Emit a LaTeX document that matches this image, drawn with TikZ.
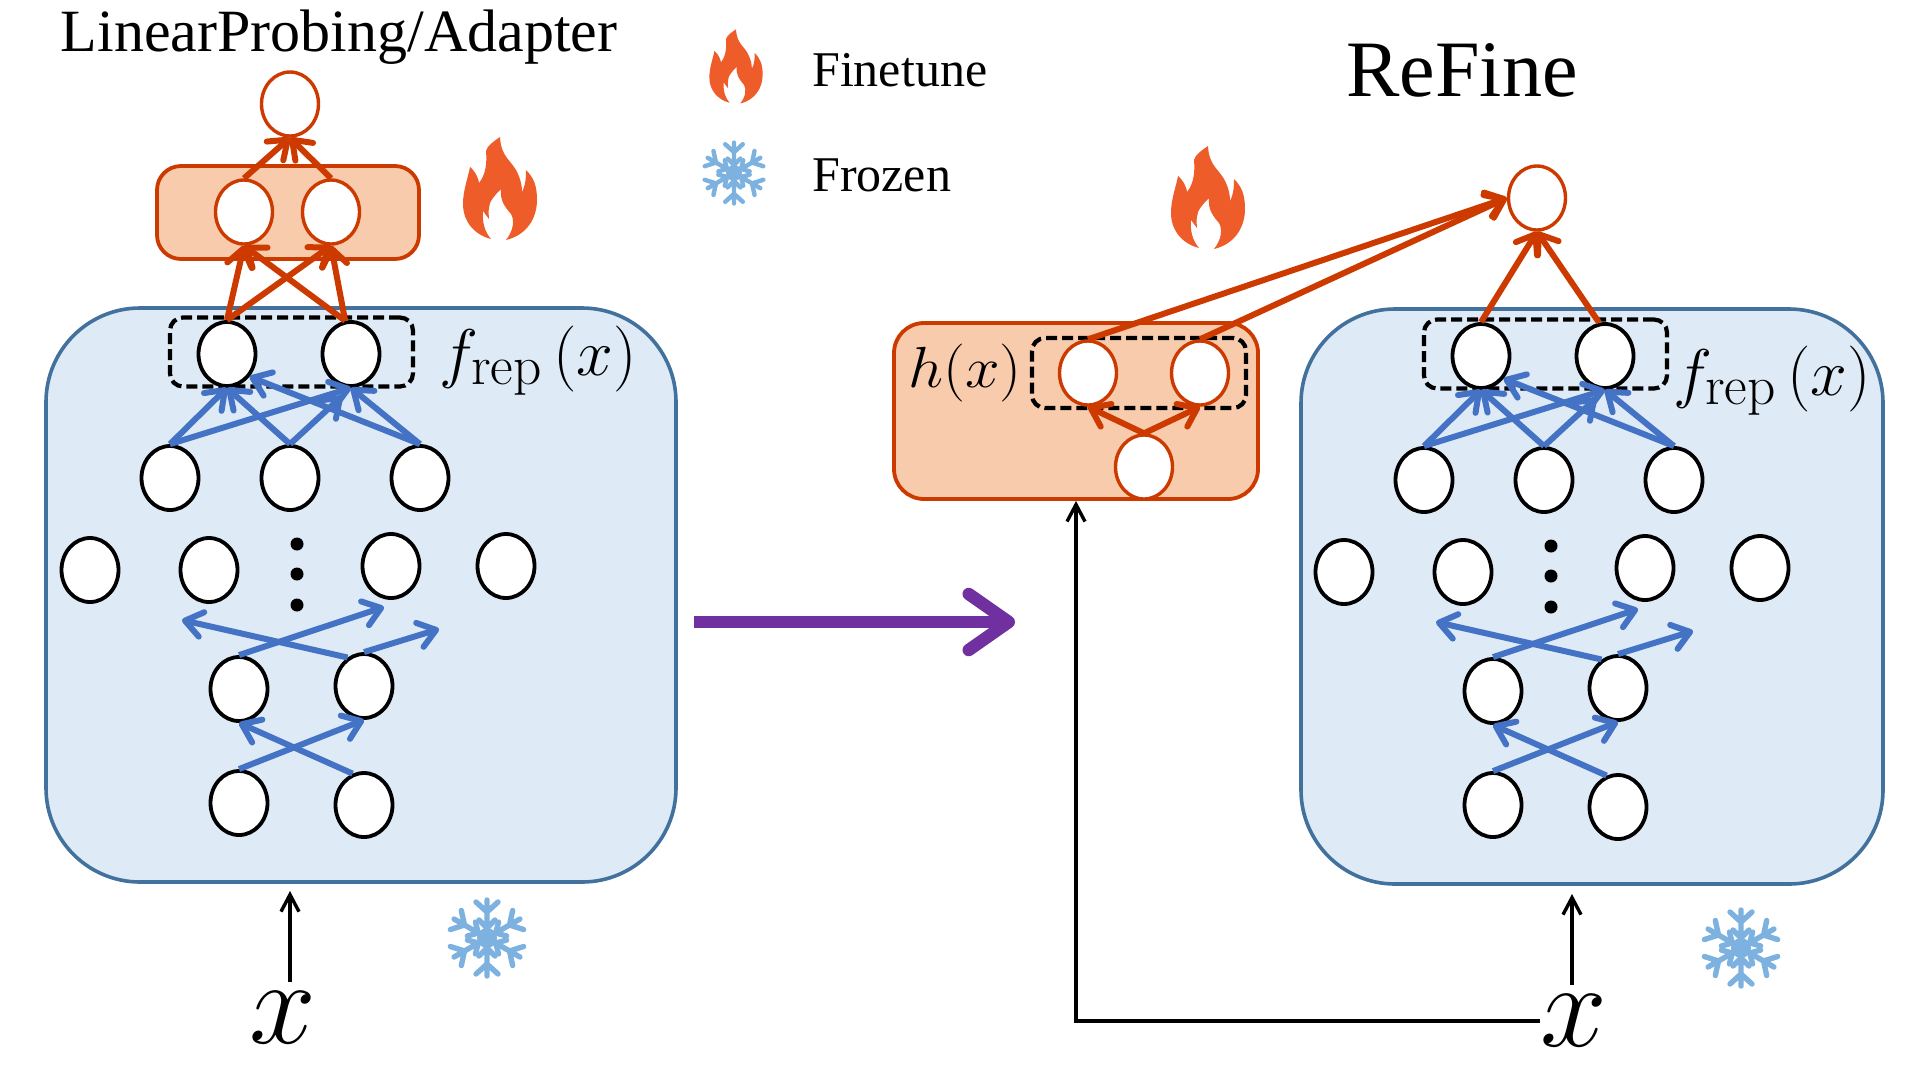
\RequirePackage{fix-cm}
\documentclass[tikz,border=0pt]{standalone}
\usepackage[no-math]{fontspec}
\setmainfont{Liberation Serif}
\usepackage{amsmath}
\usepackage{tikz}
\usetikzlibrary{shapes.geometric,arrows.meta,positioning}

\definecolor{redline}{HTML}{CC3A00}
\definecolor{redfill}{HTML}{F8CBAD}
\definecolor{blueline}{HTML}{41719C}
\definecolor{bluefill}{HTML}{DEEAF6}
\definecolor{bluearr}{HTML}{4472C4}
\definecolor{purplearr}{HTML}{7030A0}
\definecolor{flamecol}{HTML}{EE5C2A}
\definecolor{snowcol}{HTML}{7DB1DF}

\newcommand{\frep}{$f_{\scalebox{1.2}{$\scriptstyle\mathrm{rep}$}}\,(x)$}

\tikzset{
	nn/.style={ellipse,draw=black,fill=white,line width=3.8pt,minimum width=57pt,minimum height=64pt,inner sep=0pt},
	rednn/.style={nn,draw=redline,line width=3.4pt},
	bluebox/.style={rectangle,draw=blueline,fill=bluefill,line width=3.6pt,rounded corners=94pt,inner sep=0pt},
	redbox/.style={rectangle,draw=redline,fill=redfill,line width=3.8pt,rounded corners=24pt,inner sep=0pt},
	dashbox/.style={rectangle,draw=black,line width=4.2pt,dash pattern=on 11pt off 5pt,rounded corners=13pt,inner sep=0pt},
	bluearrow/.style={draw=bluearr,line width=6pt,-{Straight Barb[length=17pt,width=25pt,round]}},
	redarrow/.style={draw=redline,line width=6pt,-{Straight Barb[length=17pt,width=25pt,round]}},
	inputarrow/.style={draw=black,line width=3.4pt,-{Straight Barb[length=17pt,width=18pt]}},
	bigarrow/.style={draw=purplearr,line width=12.5pt,-{Straight Barb[length=40pt,width=56pt,round]}},
	snowline/.style={draw=snowcol,line width=5.4pt,line cap=round},
	pics/firepic/.style={code={
		\fill[flamecol] (0,-51) .. controls (1,-30) and (12,-28) .. (18,-14)
			.. controls (21,-7) and (22,-2) .. (22,4)
			.. controls (26,-4) and (26,-12) .. (26,-18)
			.. controls (34,-10) and (37,-2) .. (37,12)
			.. controls (37,30) and (27,47) .. (6,52)
			.. controls (13,43) and (15,33) .. (11,26)
			.. controls (4,18) and (0,12) .. (1,1)
			.. controls (-6,8) and (-11,14) .. (-11,20)
			.. controls (-12,24) and (-11,28) .. (-11,31)
			-- (-17,23)
			.. controls (-18,35) and (-15,44) .. (-9,51)
			.. controls (-25,47) and (-37,34) .. (-37,16)
			.. controls (-37,2) and (-32,-10) .. (-30,-21)
			.. controls (-24,-16) and (-21,-8) .. (-21,-5)
			.. controls (-14,-14) and (-13,-25) .. (-14,-37)
			.. controls (-13,-42) and (-6,-47) .. (0,-51) -- cycle;
	}},
	pics/snowpic/.style={code={
		\fill[snowcol] (0,0) circle (10);
		\foreach \a in {90,150,210,270,330,390}
			\draw[snowline,rotate=\a] (0,0)--(38,0) (26,0)--(36,11) (26,0)--(36,-11) (10,0)--(18,8) (10,0)--(18,-8);
	}},
}

\begin{document}
\begin{tikzpicture}[x=1pt,y=-1pt]
	\useasboundingbox (0,0) rectangle (1920,1080);
	% boxes
	\node[bluebox,minimum width=630pt,minimum height=574pt] (lenc) at (361,595) {};
	\node[bluebox,minimum width=582pt,minimum height=575pt] (renc) at (1592,596.5) {};
	\node[redbox,minimum width=262pt,minimum height=93pt] (lhead) at (288,212.5) {};
	\node[redbox,minimum width=364pt,minimum height=176pt,rounded corners=30pt] (rhead) at (1076,411) {};
	% encoder, the same in both panels
	\foreach \p/\dx/\dy in {l/0/0,r/1254/2}{
		\begin{scope}[shift={(\dx,\dy)},name prefix=\p-]
			\node[dashbox,minimum width=243pt,minimum height=69pt] (rep) at (291.5,352) {};
			\foreach \n/\x/\y in {f1/227/354,f2/351/354,c1/170/478,c2/290/478,c3/420/478,
				m1/90/570,m2/209/570,m3/391/566,m4/506/566,d1/239/689,d2/364/686,e1/239/803,e2/364/805}
				\node[nn] (\n) at (\x,\y) {};
			\foreach \n/\y in {dot1/544,dot2/574,dot3/605}
				\node[circle,fill=black,minimum size=13pt,inner sep=0pt] (\n) at (297,\y) {};
			\coordinate (up1) at (384,607);
			\coordinate (up2) at (182,620);
			\coordinate (up3) at (439,629);
			% collegamenti
			\draw[bluearrow] (e1.north)--(d2.south);
			\draw[bluearrow] (e2.110)--(d1.south);
			\draw[bluearrow] (d1.north)--(up1);
			\draw[bluearrow] (d2.120)--(up2);
			\draw[bluearrow] (d2.north)--(up3);
			\draw[bluearrow] (c1.north)--(f1.south);
			\draw[bluearrow] (c1.north)--(f2.south);
			\draw[bluearrow] (c2.north)--(f1.south);
			\draw[bluearrow,shorten >=12pt] (c2.north)--(f2.south);
			\draw[bluearrow] (c3.north)--(f1.-45);
			\draw[bluearrow] (c3.north)--(f2.south);
		\end{scope}
	}
	% left head
	\node[rednn] (la) at (244,212) {};
	\node[rednn] (lb) at (331,212) {};
	\node[rednn] (ltop) at (290,104) {};
	\draw[redarrow] (l-f1.north)--(la.south);
	\draw[redarrow] (l-f1.north)--(lb.south);
	\draw[redarrow] (l-f2.100)--(la.south);
	\draw[redarrow] (l-f2.100)--(lb.south);
	\draw[redarrow] (la.north)--(ltop.south);
	\draw[redarrow] (lb.north)--(ltop.south);
	% right head
	\node[dashbox,minimum width=214pt,minimum height=70pt] (hrep) at (1139,373) {};
	\node[rednn] (ha) at (1088,373) {};
	\node[rednn] (hb) at (1200,373) {};
	\node[rednn] (hc) at (1144,467) {};
	\node[rednn] (rtop) at (1537,198) {};
	\draw[redarrow] (hc.north)--(ha.south);
	\draw[redarrow] (hc.north)--(hb.south);
	\draw[redarrow] (ha.north)--(rtop.west);
	\draw[redarrow] (hb.north)--(rtop.west);
	\draw[redarrow] (r-f1.north)--(rtop.south);
	\draw[redarrow] (r-f2.100)--(rtop.south);
	% labels
	\node[anchor=base,font=\fontsize{60}{60}\selectfont,inner sep=0pt] (ltitle) at (339,51) {LinearProbing/Adapter};
	\node[anchor=base,font=\fontsize{80}{80}\selectfont,inner sep=0pt] (rtitle) at (1462,96) {ReFine};
	\node[anchor=base west,font=\fontsize{50}{50}\selectfont,inner sep=0pt] (lfine) at (812,86) {Finetune};
	\node[anchor=base west,font=\fontsize{50}{50}\selectfont,inner sep=0pt] (lfroz) at (812,191) {Frozen};
	\node[anchor=base west,font=\fontsize{66}{66}\selectfont,inner sep=0pt] (lrep) at (439,375) {\frep};
	\node[anchor=base west,font=\fontsize{66}{66}\selectfont,inner sep=0pt] (rrep) at (1673,395) {\frep};
	\node[anchor=base west,font=\fontsize{58}{58}\selectfont,inner sep=0pt] (hlab) at (908,387) {\scalebox{1.07}[1]{$h(x)$}};
	% input
	\node[font=\fontsize{120}{120}\selectfont,inner xsep=0pt,inner ysep=10pt] (lx) at (283,1018) {$x$};
	\node[font=\fontsize{120}{120}\selectfont,inner xsep=0pt,inner ysep=10pt] (rx) at (1574,1021) {$x$};
	\coordinate (lxtip) at (290,891);
	\coordinate (rxtip) at (1572,894);
	\draw[inputarrow] (lx.north -| lxtip)--(lxtip);
	\draw[inputarrow] (rx.north -| rxtip)--(rxtip);
	\draw[inputarrow] (rx.west) -| (rhead.south);
	% big arrow
	\coordinate (bigfrom) at (694,622);
	\coordinate (bigto) at (1015,622);
	\draw[bigarrow] (bigfrom)--(bigto);
	% icons
	\pic at (500,188) {firepic};
	\pic at (1208,197) {firepic};
	\pic[scale=.72] at (736,66) {firepic};
	\pic at (487,938) {snowpic};
	\pic at (1741,948) {snowpic};
	\pic[scale=.8,snowline/.append style={line width=4.4pt}] at (734,173) {snowpic};
\end{tikzpicture}
\end{document}
